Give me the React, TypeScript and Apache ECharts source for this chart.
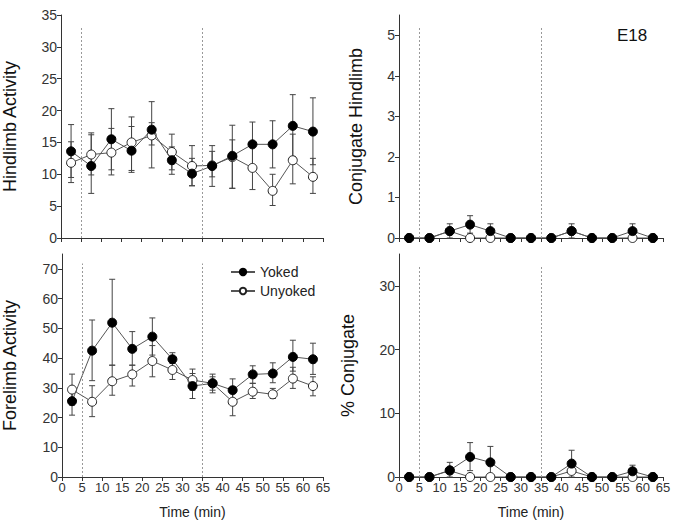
import React, { useEffect, useRef } from "react";
import * as echarts from "echarts";

const times = [2.5, 7.5, 12.5, 17.5, 22.5, 27.5, 32.5, 37.5, 42.5, 47.5, 52.5, 57.5, 62.5];
const phaseBounds = [5, 35];

// Hindlimb activity
const hindYoked = [13.6, 11.3, 15.5, 13.7, 17.0, 12.2, 10.1, 11.3, 12.9, 14.7, 14.7, 17.6, 16.7];
const hindYokedHi = [17.8, 16.2, 20.3, 17.5, 21.4, 14.3, 12.5, 13.6, 17.7, 18.2, 18.4, 22.5, 22.0];
const hindYokedLo = [9.5, 7.0, 10.7, 10.3, 11.0, 10.0, 8.2, 9.6, 7.8, 11.3, 11.0, 12.8, 11.5];
const hindUnyoked = [11.8, 13.1, 13.4, 15.0, 16.1, 13.5, 11.3, 11.4, 12.7, 11.0, 7.4, 12.2, 9.6];
const hindUnyokedHi = [15.1, 16.5, 17.2, 19.0, 18.1, 16.3, 14.5, 14.5, 15.4, 14.8, 10.0, 16.3, 12.5];
const hindUnyokedLo = [8.7, 9.9, 9.9, 10.6, 14.6, 10.7, 8.2, 8.1, 7.8, 7.6, 5.1, 8.5, 7.0];

// Forelimb activity
const foreYoked = [25.5, 42.5, 51.9, 43.1, 47.2, 39.6, 30.6, 31.5, 29.2, 34.5, 34.8, 40.4, 39.6];
const foreYokedHi = [29.5, 52.8, 66.5, 48.9, 53.5, 41.8, 34.8, 34.6, 33.0, 37.4, 38.4, 46.0, 45.0];
const foreYokedLo = [20.8, 32.4, 37.6, 37.6, 41.0, 38.2, 26.4, 28.3, 25.3, 31.5, 31.7, 35.6, 34.5];
const foreUnyoked = [29.4, 25.3, 32.2, 34.5, 39.0, 36.0, 32.6, 31.5, 25.3, 28.7, 27.8, 33.1, 30.6];
const foreUnyokedHi = [34.6, 30.7, 37.6, 37.6, 44.2, 38.8, 36.3, 33.7, 30.3, 31.5, 29.8, 36.9, 33.7];
const foreUnyokedLo = [24.2, 20.3, 27.5, 30.6, 33.7, 32.8, 29.2, 29.2, 20.6, 26.4, 26.4, 29.8, 27.3];

// Conjugate hindlimb
const conjYoked = [0, 0, 0.17, 0.33, 0.17, 0, 0, 0, 0.17, 0, 0, 0.17, 0];
const conjYokedHi = [0, 0, 0.35, 0.55, 0.35, 0, 0, 0, 0.35, 0, 0, 0.35, 0];
const conjYokedLo = [0, 0, 0.0, 0.12, 0.0, 0, 0, 0, 0.0, 0, 0, 0.0, 0];
const conjUnyoked = [0, 0, 0.17, 0, 0, 0, 0, 0, 0.17, 0, 0, 0, 0];

// % conjugate
const pctYoked = [0, 0, 1.05, 3.15, 2.3, 0, 0, 0, 2.1, 0, 0, 0.9, 0];
const pctYokedHi = [0, 0, 2.3, 5.4, 4.8, 0, 0, 0, 4.2, 0, 0, 1.85, 0];
const pctYokedLo = [0, 0, 0.0, 1.0, 0.0, 0, 0, 0, 0.0, 0, 0, 0.0, 0];
const pctUnyoked = [0, 0, 1.0, 0, 0, 0, 0, 0, 0.95, 0, 0, 0, 0];

const FONT = "'Liberation Sans', Arial, Helvetica, sans-serif";
const AXIS_COLOR = "#333";
const LINE_COLOR = "#555";

const pairs = (ys: number[]) => times.map((t, i) => [t, ys[i]]);
const errs = (lo: number[], hi: number[]) => times.map((t, i) => [t, lo[i], hi[i]]);

export default function App() {
  const ref = useRef<HTMLDivElement>(null);
  useEffect(() => {
    if (!ref.current) return;
    const chart = echarts.init(ref.current, undefined, { renderer: "svg" });

    const grids = [
      { left: 60, top: 15, width: 263, height: 223 },
      { left: 60, top: 254, width: 263, height: 223 },
      { left: 399, top: 15, width: 264, height: 223 },
      { left: 399, top: 254, width: 264, height: 223 },
    ];

    const xAxes = grids.map((_, i) => ({
      type: "value",
      gridIndex: i,
      min: 0,
      max: 65,
      interval: 5,
      name: i % 2 === 1 ? "Time (min)" : "",
      nameLocation: "middle",
      nameGap: 28,
      nameTextStyle: { fontFamily: FONT, fontSize: 14, color: "#222" },
      axisLine: { lineStyle: { color: AXIS_COLOR, width: 1 } },
      axisTick: { show: true, length: 4, lineStyle: { color: AXIS_COLOR } },
      axisLabel: { show: i % 2 === 1, fontFamily: FONT, fontSize: 13, color: "#333", margin: 4 },
      splitLine: { show: false },
    }));

    const yCfg = [
      { name: "Hindlimb Activity", max: 35, vals: [0, 5, 10, 15, 20, 25, 30, 35], gap: 42 },
      { name: "Forelimb Activity", max: 75, vals: [0, 10, 20, 30, 40, 50, 60, 70], gap: 43 },
      { name: "Conjugate Hindlimb", max: 5.5, vals: [0, 1, 2, 3, 4, 5], gap: 34 },
      { name: "% Conjugate", max: 35, vals: [0, 10, 20, 30], gap: 42 },
    ];
    const yAxes = yCfg.map((c, i) => ({
      type: "value",
      gridIndex: i,
      min: 0,
      max: c.max,
      name: c.name,
      nameLocation: "middle",
      nameGap: c.gap,
      nameTextStyle: { fontFamily: FONT, fontSize: 18, color: "#111" },
      axisLine: { show: true, lineStyle: { color: AXIS_COLOR, width: 1 } },
      axisTick: { show: true, length: 4, customValues: c.vals, lineStyle: { color: AXIS_COLOR } },
      axisLabel: { customValues: c.vals, fontFamily: FONT, fontSize: 14, color: "#333", margin: 4 },
      splitLine: { show: false },
    }));

    const errSeries = (idx: number, lo: number[], hi: number[]) => ({
      type: "custom",
      xAxisIndex: idx,
      yAxisIndex: idx,
      z: 2,
      silent: true,
      data: errs(lo, hi),
      renderItem: (params: any, api: any) => {
        const x = api.value(0);
        const l = api.value(1);
        const h = api.value(2);
        const ph = api.coord([x, h]);
        const pl = api.coord([x, l]);
        const w = 3;
        const st = { stroke: "#444", lineWidth: 1 };
        return {
          type: "group",
          children: [
            { type: "line", shape: { x1: ph[0], y1: ph[1], x2: pl[0], y2: pl[1] }, style: st },
            { type: "line", shape: { x1: ph[0] - w, y1: ph[1], x2: ph[0] + w, y2: ph[1] }, style: st },
            { type: "line", shape: { x1: pl[0] - w, y1: pl[1], x2: pl[0] + w, y2: pl[1] }, style: st },
          ],
        };
      },
    });

    const ymaxLine = [33, 71.8, 5.2, 33];
    const lineSeries = (idx: number, name: string, ys: number[], filled: boolean, withMark: boolean) => ({
      type: "line",
      name,
      xAxisIndex: idx,
      yAxisIndex: idx,
      z: filled ? 4 : 3,
      data: pairs(ys),
      symbol: "circle",
      symbolSize: 9,
      showAllSymbol: true,
      lineStyle: { color: LINE_COLOR, width: 1 },
      itemStyle: filled
        ? { color: "#000", borderColor: "#000", borderWidth: 1 }
        : { color: "#fff", borderColor: "#222", borderWidth: 1 },
      emphasis: { disabled: true },
      markLine: withMark
        ? {
            silent: true,
            symbol: "none",
            label: { show: false },
            lineStyle: { color: "#999", type: [2, 2], width: 1 },
            data: phaseBounds.map((b) => [
              { coord: [b, 0] },
              { coord: [b, ymaxLine[idx]] },
            ]),
          }
        : undefined,
    });

    const series: any[] = [
      errSeries(0, hindYokedLo, hindYokedHi),
      errSeries(0, hindUnyokedLo, hindUnyokedHi),
      lineSeries(0, "Unyoked", hindUnyoked, false, true),
      lineSeries(0, "Yoked", hindYoked, true, false),

      errSeries(1, foreYokedLo, foreYokedHi),
      errSeries(1, foreUnyokedLo, foreUnyokedHi),
      lineSeries(1, "Unyoked", foreUnyoked, false, true),
      lineSeries(1, "Yoked", foreYoked, true, false),

      errSeries(2, conjYokedLo, conjYokedHi),
      lineSeries(2, "Unyoked", conjUnyoked, false, true),
      lineSeries(2, "Yoked", conjYoked, true, false),

      errSeries(3, pctYokedLo, pctYokedHi),
      lineSeries(3, "Unyoked", pctUnyoked, false, true),
      lineSeries(3, "Yoked", pctYoked, true, false),
    ];

    chart.setOption({
      animation: false,
      backgroundColor: "#fff",
      textStyle: { fontFamily: FONT },
      grid: grids,
      xAxis: xAxes,
      yAxis: yAxes,
      legend: {
        data: ["Yoked", "Unyoked"],
        orient: "vertical",
        left: 225,
        top: 260,
        itemWidth: 24,
        itemHeight: 8,
        itemGap: 5,
        selectedMode: false,
        textStyle: { fontFamily: FONT, fontSize: 14, color: "#222" },
      },
      graphic: [
        {
          type: "text",
          left: 617,
          top: 27,
          style: { text: "E18", font: `17px ${FONT}`, fill: "#111" },
        },
      ],
      series,
    });
    return () => chart.dispose();
  }, []);
  return <div ref={ref} style={{ position: "fixed", left: 0, top: 0, width: 676, height: 527 }} />;
}
